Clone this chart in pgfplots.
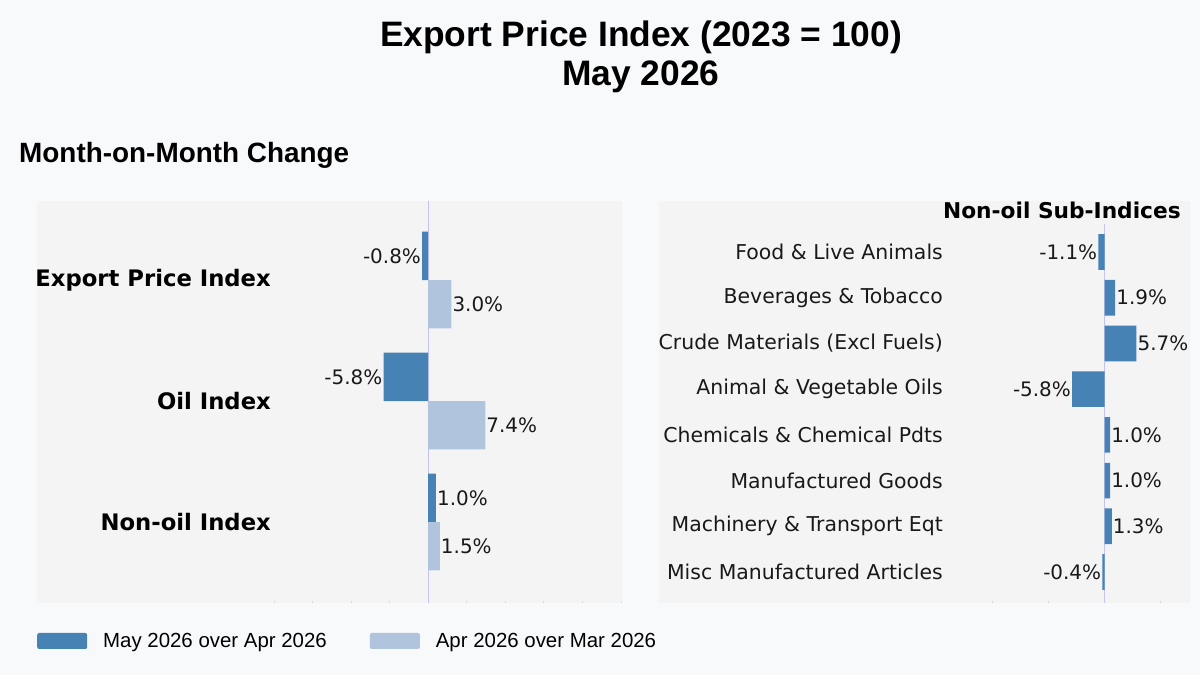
\documentclass[border=0pt]{standalone}
\usepackage{pgfplots}
\pgfplotsset{compat=1.18}
\usepackage{fontspec}
\setmainfont{Liberation Sans}
\newfontfamily\dejavu{DejaVu Sans}
\definecolor{pagebg}{HTML}{F8F9FB}
\definecolor{panelbg}{HTML}{F4F4F4}
\definecolor{darkbar}{HTML}{4682B4}
\definecolor{lightbar}{HTML}{B0C4DE}
\definecolor{zerocol}{HTML}{C4C4F4}
\definecolor{tickcol}{HTML}{DADADA}
\pgfplotsset{
  barlabels/.style={
    nodes near coords={\pgfplotspointmeta\%},
    point meta=explicit symbolic,
    visualization depends on={value \thisrow{anc} \as \anc},
    every node near coord/.append style={anchor=\anc},
  }
}
\begin{document}
\begin{tikzpicture}[x=1bp,y=1bp]
\fill[pagebg] (0,0) rectangle (1200,675);
\path[use as bounding box] (0,0) rectangle (1200,675);
\fill[panelbg] (37,72) rectangle (622,474);
\fill[panelbg] (659,72) rectangle (1190,474);
\node[anchor=base, inner sep=0pt, font=\fontsize{35.5}{42}\selectfont\bfseries] at (641,628) {Export Price Index (2023 = 100)};
\node[anchor=base, inner sep=0pt, font=\fontsize{35.5}{42}\selectfont\bfseries] at (641,589) {May 2026};
\node[anchor=base west, inner sep=0pt, font=\fontsize{28}{34}\selectfont\bfseries] at (19,512) {Month-on-Month Change};

\begin{axis}[
  at={(274bp,72bp)}, anchor=south west, width=347bp, height=402bp, scale only axis,
  xmin=-20, xmax=25, ymin=-0.653, ymax=2.669, y dir=reverse,
  axis line style={draw=none},
  xtick={-20,-15,...,25}, xticklabels={}, xtick pos=bottom, tick align=inside,
  major tick length=2bp, xtick style={tickcol, line width=0.8bp},
  ytick={0,1,2}, yticklabels={Export Price Index, Oil Index, Non-oil Index},
  ytick style={draw=none},
  yticklabel style={font=\dejavu\fontsize{22.8}{27}\selectfont\bfseries, inner sep=0pt, xshift=-1bp, text=black},
  extra x ticks={0}, extra x tick labels={},
  extra x tick style={grid=major, major grid style={zerocol, line width=1bp}, tick style={draw=none}},
  xbar, bar width=0.4,
  nodes near coords style={font=\dejavu\fontsize{20}{24}\selectfont, inner sep=1bp, text=black!90},
  clip=false,
  legend columns=2,
  legend style={at={(axis description cs:-0.683,-0.0945)}, anchor=west, draw=none, fill=none,
    inner sep=0pt, font=\fontsize{20.5}{24}\selectfont, nodes={inner sep=0pt},
    /tikz/every even column/.append style={column sep=43bp}},
  legend image code/.code={\fill[#1, rounded corners=2bp] (0bp,-8bp) rectangle (50bp,8bp); \path (66bp,0bp);},
]
\addplot[fill=darkbar, draw=none, bar shift=-0.2, barlabels] table[x=v, y=c, meta=lab] {
v     c  lab   anc
-0.8  0  -0.8  east
-5.8  1  -5.8  east
1.0   2  1.0   west
};
\addplot[fill=lightbar, draw=none, bar shift=0.2, barlabels] table[x=v, y=c, meta=lab] {
v     c  lab   anc
3.0   0  3.0   west
7.4   1  7.4   west
1.5   2  1.5   west
};
\legend{May 2026 over Apr 2026, Apr 2026 over Mar 2026}
\end{axis}

\begin{axis}[
  at={(946bp,72bp)}, anchor=south west, width=244bp, height=379bp, scale only axis,
  xmin=-28.3, xmax=15.27, ymin=-0.613, ymax=7.678, y dir=reverse,
  axis line style={draw=none},
  xtick={-20,-10,0,10}, xticklabels={}, xtick pos=bottom, tick align=inside,
  major tick length=2bp, xtick style={tickcol, line width=0.8bp},
  ytick={0,...,7},
  yticklabels={Food \& Live Animals, Beverages \& Tobacco, Crude Materials (Excl Fuels), Animal \& Vegetable Oils, Chemicals \& Chemical Pdts, Manufactured Goods, Machinery \& Transport Eqt, Misc Manufactured Articles},
  ytick style={draw=none},
  yticklabel style={font=\dejavu\fontsize{20.5}{24}\selectfont, inner sep=0pt, xshift=-1bp, text=black!90},
  extra x ticks={0}, extra x tick labels={},
  extra x tick style={grid=major, major grid style={zerocol, line width=1bp}, tick style={draw=none}},
  xbar, bar width=0.78,
  nodes near coords style={font=\dejavu\fontsize{20}{24}\selectfont, inner sep=1bp, text=black!90},
  clip=false,
  title={Non-oil Sub-Indices},
  title style={at={(axis description cs:0.475,1)}, anchor=base, yshift=0bp, inner sep=0pt,
    font=\dejavu\fontsize{21.8}{26}\selectfont\bfseries},
]
\addplot[fill=darkbar, draw=none, barlabels] table[x=v, y=c, meta=lab] {
v     c  lab   anc
-1.1  0  -1.1  east
1.9   1  1.9   west
5.7   2  5.7   west
-5.8  3  -5.8  east
1.0   4  1.0   west
1.0   5  1.0   west
1.3   6  1.3   west
-0.4  7  -0.4  east
};
\end{axis}
\end{tikzpicture}
\end{document}
